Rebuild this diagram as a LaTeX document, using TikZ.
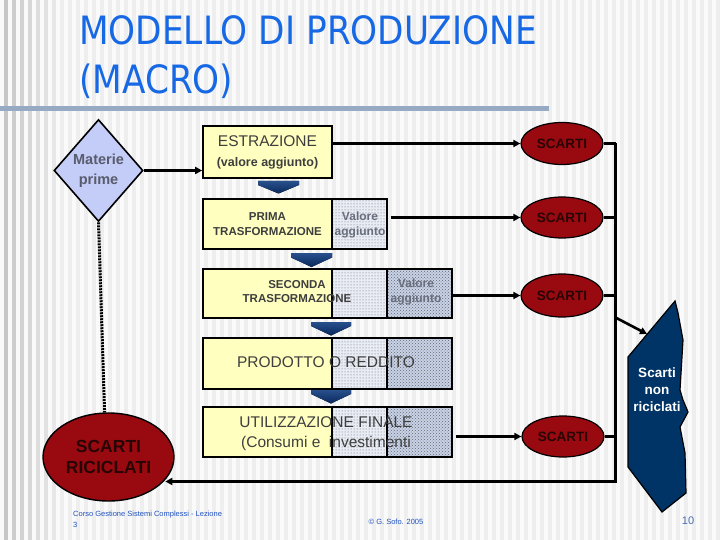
\documentclass[tikz,border=0pt]{standalone}
\usepackage{fontspec}
\setmainfont{Liberation Sans}
\newfontfamily\titlefont[FakeStretch=0.88]{DejaVu Sans}
\usetikzlibrary{shapes.geometric,arrows.meta,patterns}
\definecolor{bgbase}{RGB}{238,238,238}
\definecolor{titleblue}{RGB}{22,104,228}
\definecolor{rulecol}{RGB}{150,170,195}
\definecolor{diamfill}{RGB}{196,204,248}
\definecolor{matgray}{RGB}{88,92,108}
\definecolor{yel}{RGB}{255,255,192}
\definecolor{dotfill}{RGB}{232,236,245}
\definecolor{densefill}{RGB}{200,210,232}
\definecolor{boxtext}{RGB}{62,62,62}
\definecolor{vatext}{RGB}{105,110,125}
\definecolor{scred}{RGB}{152,10,16}
\definecolor{sctext}{RGB}{40,5,5}
\definecolor{navy}{RGB}{0,51,102}
\definecolor{arrtop}{RGB}{40,80,140}
\definecolor{arrbot}{RGB}{10,40,92}
\definecolor{footblue}{RGB}{30,80,190}
\definecolor{numblue}{RGB}{70,110,180}
\tikzset{
  ybox/.style={draw=black, line width=1.6pt, fill=yel, inner sep=0, minimum width=129, minimum height=50, align=center, text=boxtext},
  dbox/.style={draw=black, line width=1.6pt, preaction={fill=dotfill}, pattern=dots, pattern color=black!60, inner sep=0, minimum width=55, minimum height=50},
  ddbox/.style={draw=black, line width=1.6pt, preaction={fill=densefill}, pattern=crosshatch dots, pattern color=black!60, inner sep=0, minimum width=65, minimum height=50},
  scarti/.style={ellipse, draw=black, line width=1.2pt, fill=scred, minimum width=82, minimum height=42, inner sep=0, font=\bfseries\fontsize{13.5}{13.5}\selectfont, text=sctext},
  conn/.style={line width=2.6pt, draw=black},
  tip/.style={-{Triangle[length=7pt,width=7pt]}},
  dotline/.style={line width=3pt, dash pattern=on 2pt off 1pt},
  vatxt/.style={align=center, font=\bfseries\fontsize{12}{15}\selectfont, text=vatext, inner sep=0},
  bigtxt/.style={align=center, font=\fontsize{15.5}{20}\selectfont, text=boxtext, inner sep=0},
  downarr/.style={top color=arrtop, bottom color=arrbot, draw=none}
}
\begin{document}
\begin{tikzpicture}[x=1pt,y=-1pt]
\useasboundingbox (0,0) rectangle (720,540);
% background stripes
\fill[bgbase] (0,0) rectangle (720,540);
\foreach \i in {0,...,90} \fill[white,opacity=0.75] (\i*8,0) rectangle ++(4,540);
\foreach \i in {0,...,6} {
  \pgfmathsetmacro\op{0.16-0.022*\i}
  \fill[black,opacity=\op] (\i*8+4,0) rectangle ++(4,540);
}
% title
\node[anchor=base west, font=\titlefont\fontsize{39}{39}\selectfont, text=titleblue, inner sep=0] (t1) at (79,45) {MODELLO DI PRODUZIONE};
\node[anchor=base west, font=\titlefont\fontsize{39}{39}\selectfont, text=titleblue, inner sep=0] (t2) at (79,94) {(MACRO)};
\fill[rulecol] (0,106) rectangle (549,111);

% diamond
\node[diamond, aspect=0.87, draw=black, line width=1.6pt, fill=diamfill, minimum width=89, minimum height=102, inner sep=0, align=center, font=\bfseries\fontsize{14.5}{20}\selectfont, text=matgray] (mat) at (98.5,170.5) {Materie\\prime};

% rows of boxes
\node[ybox, minimum height=52, font=\fontsize{15.5}{20}\selectfont] (estr) at (267.5,152) {ESTRAZIONE\\{\bfseries\fontsize{12.5}{20}\selectfont (valore aggiunto)}};

\node[dbox] (va1) at (359.5,224) {};
\node[ybox, font=\bfseries\fontsize{11.5}{14.5}\selectfont] (prima) at (267.5,224) {PRIMA\\TRASFORMAZIONE};
\node[vatxt] (va1t) at (360,224.5) {Valore\\aggiunto};

\node[dbox, minimum height=49] (d2) at (359.5,293.5) {};
\node[ddbox, minimum height=49] (va2) at (419.5,293.5) {};
\node[ybox, minimum height=49] (sec) at (267.5,293.5) {};
\node[align=center, font=\bfseries\fontsize{11.5}{14.5}\selectfont, text=boxtext, inner sep=0] (sect) at (297,291.5) {SECONDA\\TRASFORMAZIONE};
\node[vatxt] (va2t) at (416,292) {Valore\\aggiunto};

\node[dbox, minimum height=51] (d3) at (359.5,363.5) {};
\node[ddbox, minimum height=51] (dd3) at (419.5,363.5) {};
\node[ybox, minimum height=51] (prod) at (267.5,363.5) {};
\node[bigtxt] (prodt) at (326,362.5) {PRODOTTO O REDDITO};

\node[dbox] (d4) at (359.5,432) {};
\node[ddbox] (utilD) at (419.5,432) {};
\node[ybox] (util) at (267.5,432) {};
\node[bigtxt] (utilt) at (326,434) {UTILIZZAZIONE FINALE\\(Consumi e \ investimenti};

% down arrows
\fill[downarr] (258,181) -- (299,181) -- (299,185) -- (278.5,193.5) -- (258,185) -- cycle;
\fill[downarr] (291,253) -- (332,253) -- (332,257.5) -- (311.5,267) -- (291,257.5) -- cycle;
\fill[downarr] (311,322) -- (351,322) -- (351,326) -- (331,335.5) -- (311,326) -- cycle;
\fill[downarr] (311,390) -- (351,390) -- (351,394) -- (331,403.5) -- (311,394) -- cycle;

% scarti ellipses
\node[scarti] (s1) at (562,143.5) {SCARTI};
\node[scarti, minimum height=41] (s2) at (562,217.5) {SCARTI};
\node[scarti, minimum height=43] (s3) at (562,295.5) {SCARTI};
\node[scarti, minimum height=41] (s4) at (563,436.5) {SCARTI};

% scarti riciclati
\node[ellipse, draw=black, line width=1.4pt, fill=scred, minimum width=131, minimum height=88, inner sep=0, align=center, font=\bfseries\fontsize{17.5}{21}\selectfont, text=sctext] (ric) at (108.5,457) {SCARTI\\RICICLATI};

% scarti non riciclati shape
\filldraw[fill=navy, draw=black, line width=1.2pt] (675,301) -- (628,357) -- (628,467) -- (662,512) -- (686,493) -- (685,453) -- (680,427) -- (688,412) -- (683,400) -- (680,390) -- (683,340) -- (678,313) -- cycle;
\coordinate (nrin) at (647,334);
\node[align=center, font=\bfseries\fontsize{13.5}{17}\selectfont, text=white, inner sep=0] (nr) at (657,390) {Scarti\\non\\riciclati};

% connectors
\draw[conn,tip] (mat.east) -- (mat.east -| estr.west);
\draw[conn,tip] (s1.west -| estr.east) -- (s1.west);
\draw[conn,tip] (s2.west -| va1.east) ++(3,0) -- (s2.west);
\draw[conn,tip] (s3.west -| va2.east) -- (s3.west);
\draw[conn,tip] (s4.west -| utilD.east) ++(3,0) -- (s4.west);

\coordinate (bt) at (615.5,143.5);
\coordinate (bb) at (615.5,481.5);
\coordinate (bd) at (615.5,317.5);
\draw[conn] (s1.east) -- (s1.east -| bt);
\draw[conn] (s2.east) -- (s2.east -| bt);
\draw[conn] (s3.east) -- (s3.east -| bt);
\draw[conn] (s4.east) -- (s4.east -| bt);
\draw[conn,tip] (bt |- s1.east) -- (bb) -- (bb -| ric.-22);
\draw[conn,tip] (bd) -- (nrin);
\draw[dotline] (mat.south) -- (ric.95);

% footer
\node[anchor=base west, font=\fontsize{7.5}{9}\selectfont, text=footblue, inner sep=0] (f1) at (73,516) {Corso Gestione Sistemi Complessi - Lezione};
\node[anchor=base west, font=\fontsize{7.5}{9}\selectfont, text=footblue, inner sep=0] (f2) at (73,527) {3};
\node[font=\fontsize{7.5}{9}\selectfont, text=footblue, inner sep=0] (f3) at (396,522) {© G. Sofo. 2005};
\node[font=\fontsize{11}{13}\selectfont, text=numblue, inner sep=0] (pg) at (688,521) {10};
\end{tikzpicture}
\end{document}
